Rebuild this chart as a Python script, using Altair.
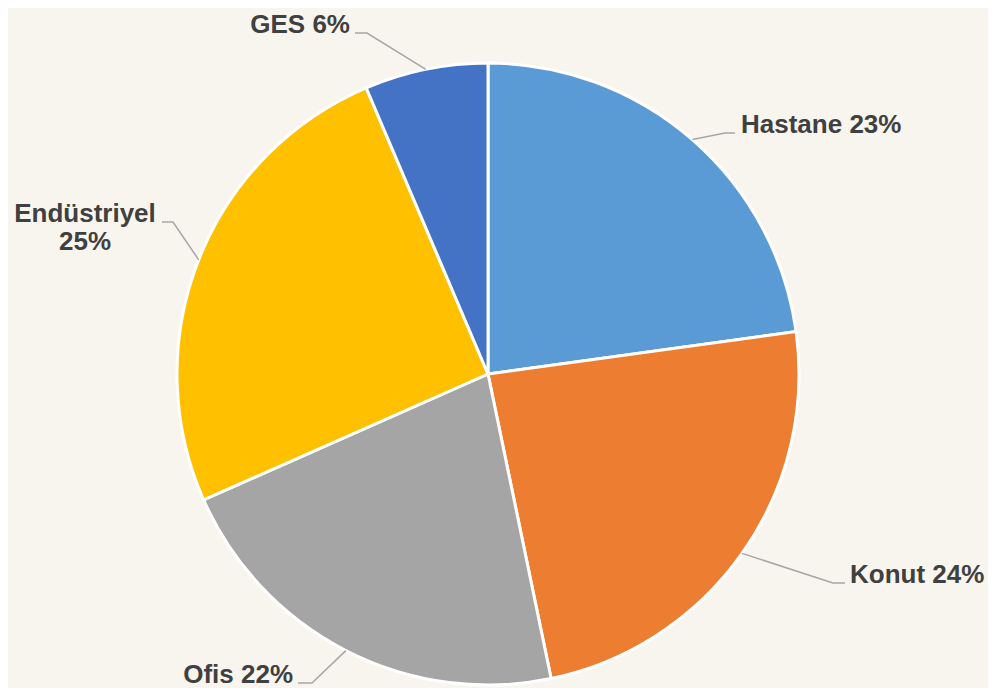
import altair as alt
import pandas as pd
import numpy as np

# ---- data ----
categories = ["Hastane", "Konut", "Ofis", "Endüstriyel", "GES"]
shares = [22.8, 23.9, 21.6, 25.2, 6.4]
colors = ["#5B9BD5", "#ED7D31", "#A5A5A5", "#FFC000", "#4472C4"]

# ---- layout (pixels relative to pie centre) ----
R = 311
CX, CY = 480, 366
W, H = 980, 680
elbow_x = [237, 345, -176, -315, -121]
anchor_x = [247, 357, -190, -326, -133]
anchor_y = [-241, 209, 309, -152, -341]
text_x = [253, 362, -195, -403, -138]
text_align = ["left", "left", "right", "center", "right"]

pct = [f"{int(round(s))}%" for s in shares]
labels = []
for c, p in zip(categories, pct):
    labels.append(f"{c}\n{p}" if c == "Endüstriyel" else f"{c} {p}")

pie_df = pd.DataFrame({"cat": categories, "val": shares, "idx": range(len(categories))})

# mid angles from data
tot = sum(shares)
cum = np.cumsum([0] + shares[:-1])
mid = [(c + s / 2) / tot * 2 * np.pi for c, s in zip(cum, shares)]

rows = []
for i, c in enumerate(categories):
    ex, ey = R * np.sin(mid[i]), -R * np.cos(mid[i])
    rows.append({"cat": c, "pt": 0, "x": ex, "y": ey})
    rows.append({"cat": c, "pt": 1, "x": elbow_x[i], "y": anchor_y[i]})
    rows.append({"cat": c, "pt": 2, "x": anchor_x[i], "y": anchor_y[i]})
lead_df = pd.DataFrame(rows)

lab_df = pd.DataFrame({"cat": categories, "label": labels, "x": text_x,
                       "y": anchor_y, "align": text_align})

xs = alt.Scale(domain=[-CX, W - CX])
ys = alt.Scale(domain=[-CY, H - CY], reverse=True)

pie = alt.Chart(pie_df).mark_arc(radius=R, stroke="white", strokeWidth=3).encode(
    theta=alt.Theta("val:Q", stack=True),
    color=alt.Color("cat:N", scale=alt.Scale(domain=categories, range=colors), legend=None),
    order=alt.Order("idx:Q"),
    x=alt.value(CX),
    y=alt.value(CY),
)

leaders = alt.Chart(lead_df).mark_line(color="#A6A6A6", strokeWidth=1.5).encode(
    x=alt.X("x:Q", scale=xs, axis=None),
    y=alt.Y("y:Q", scale=ys, axis=None),
    detail="cat:N",
    order="pt:Q",
)

text_layers = []
for al in ["left", "right", "center"]:
    t = alt.Chart(lab_df).transform_filter(alt.datum.align == al).mark_text(
        align=al, baseline="alphabetic", font="Liberation Sans", fontWeight="bold",
        fontSize=26, color="#404040", lineBreak="\n", lineHeight=28,
    ).encode(
        x=alt.X("x:Q", scale=xs, axis=None),
        y=alt.Y("y:Q", scale=ys, axis=None),
        text="label:N",
    )
    text_layers.append(t)

chart = alt.layer(pie, leaders, *text_layers).properties(
    width=W, height=H, padding=0, autosize=alt.AutoSizeParams(type="none"),
    background="#F8F5EF",
).configure_view(stroke=None)

chart.save("out.html", embed_options={"renderer": "svg", "actions": False})
